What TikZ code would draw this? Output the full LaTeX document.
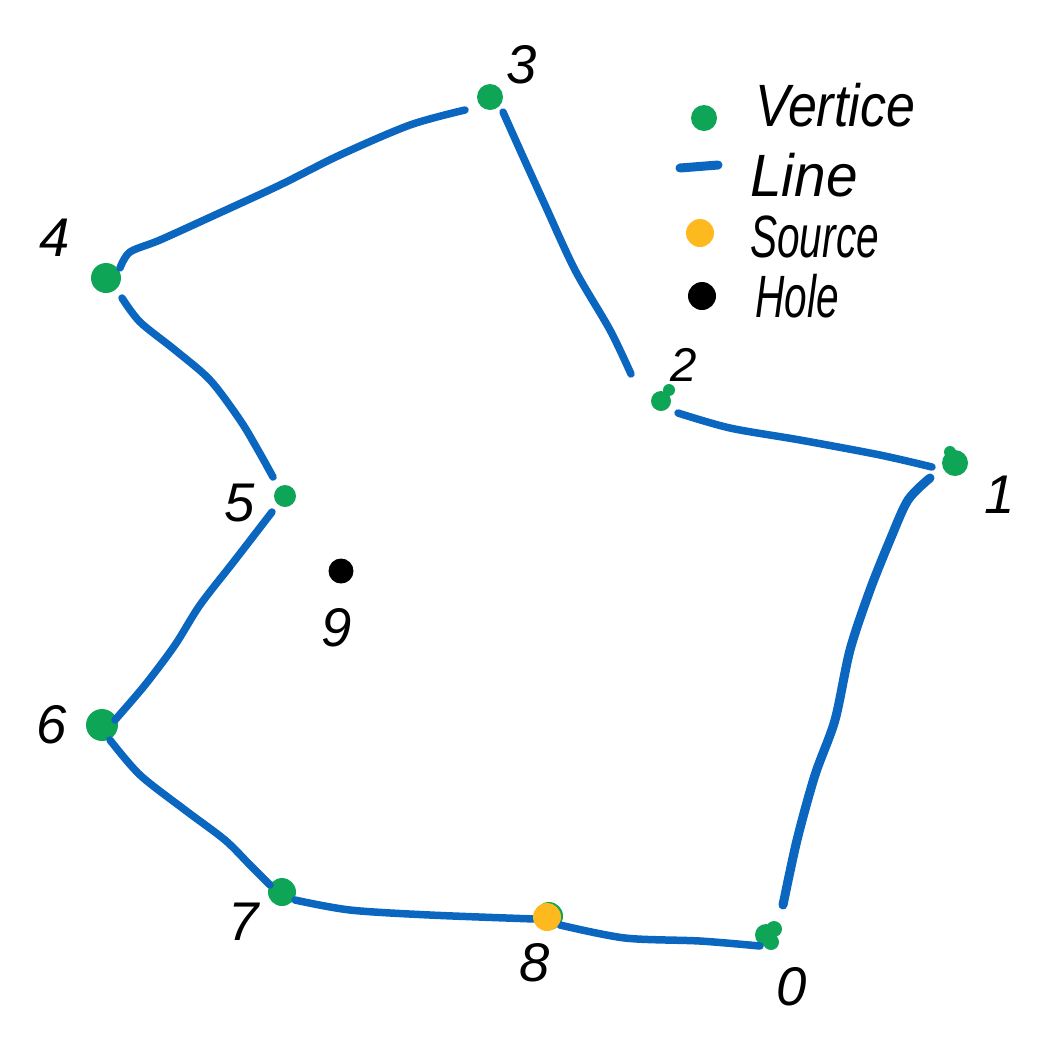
\documentclass[tikz,border=0pt]{standalone}
\usepackage{fontspec}
\setmainfont{Liberation Sans}
\definecolor{vgreen}{HTML}{0FA557}
\definecolor{lblue}{HTML}{0A66BE}
\definecolor{syellow}{HTML}{FDB91E}
\tikzset{
  px/.style={x=0.02cm,y=-0.02cm},
  vert/.style={circle,fill=vgreen,inner sep=0pt,minimum size=#1*0.04cm},
  src/.style={circle,fill=syellow,inner sep=0pt,minimum size=#1*0.04cm},
  hole/.style={circle,fill=black,inner sep=0pt,minimum size=#1*0.04cm},
  edge/.style={draw=lblue,line width=7.5*0.02cm,line cap=round,line join=round},
  thickedge/.style={edge,line width=9*0.02cm},
  num/.style={font=\fontsize{31}{31}\selectfont\itshape,text=black,inner sep=0pt},
  smallnum/.style={num,font=\fontsize{27}{27}\selectfont\itshape},
  legend/.style={font=\fontsize{34}{34}\selectfont\itshape,text=black,inner sep=0pt,anchor=west}
}
\begin{document}
\begin{tikzpicture}[px]
\useasboundingbox (0,0) rectangle (1054,1036);
% free ends of the strokes
\coordinate (a0) at (783,905); \coordinate (b1) at (930,478);
\coordinate (a1) at (932,467); \coordinate (b2) at (678,413);
\coordinate (a2) at (631,374); \coordinate (b3) at (503,112);
\coordinate (a3) at (465,110); \coordinate (b4) at (120,268);
\coordinate (a4) at (122,298); \coordinate (b5) at (273,477);
\coordinate (a5) at (272,512); \coordinate (b6) at (115,720);
\coordinate (a6) at (110,740); \coordinate (b7) at (270,885);
\coordinate (a7) at (295,900); \coordinate (b8) at (535,919);
\coordinate (a8) at (560,925); \coordinate (b0) at (760,946);
\coordinate (la) at (680,168); \coordinate (lb) at (718,165);
% vertices
\node[vert=11] (v0) at (766,935) {};
\node[vert=8] (v0b) at (774,929) {};
\node[vert=8] (v0c) at (771,942) {};
\node[vert=13] (v1) at (955,463) {};
\node[vert=6] (v1b) at (950,452) {};
\node[vert=10] (v2) at (661,401) {};
\node[vert=6] (v2b) at (669,390) {};
\node[vert=13] (v3) at (490,97) {};
\node[vert=15] (v4) at (106,278) {};
\node[vert=11] (v5) at (285,496) {};
\node[vert=16] (v6) at (102,725) {};
\node[vert=14] (v7) at (282,892) {};
\node[vert=14] (v8g) at (549,916) {};
% edges
\draw[thickedge] plot[smooth,tension=.5] coordinates {(a0) (797,840) (815,775) (835,720) (850,650) (870,590) (890,540) (908,500) (b1)};
\draw[edge] plot[smooth,tension=.5] coordinates {(a1) (880,455) (800,440) (730,428) (b2)};
\draw[edge] plot[smooth,tension=.5] coordinates {(a2) (610,330) (575,270) (545,205) (520,150) (b3)};
\draw[edge] plot[smooth,tension=.5] coordinates {(a3) (410,125) (340,155) (280,185) (215,215) (160,240) (130,252) (b4)};
\draw[edge] plot[smooth,tension=.5] coordinates {(a4) (140,322) (175,350) (210,380) (240,420) (258,450) (b5)};
\draw[edge] plot[smooth,tension=.5] coordinates {(a5) (235,560) (200,605) (175,645) (145,685) (b6)};
\draw[edge] plot[smooth,tension=.5] coordinates {(a6) (140,775) (185,810) (225,840) (250,865) (b7)};
\draw[edge] plot[smooth,tension=.5] coordinates {(a7) (350,910) (430,915) (b8)};
\draw[edge] plot[smooth,tension=.5] coordinates {(a8) (625,938) (700,941) (b0)};
\draw[thickedge] (la) -- (lb);
% source and hole
\node[src=14] (v8) at (547,917) {};
\node[hole=12.5] (v9) at (341,571) {};
% legend marks
\node[vert=13] (lv) at (704,118) {};
\node[src=14] (ls) at (700,233) {};
\node[hole=14] (lh) at (702,296) {};
% labels
\node[num] (n3) at (522,65) {3};
\node[num] (n4) at (55,238) {4};
\node[smallnum] (n2) at (684,365) {2};
\node[num] (n1) at (1000,495) {1};
\node[num] (n5) at (240,503) {5};
\node[num] (n9) at (337,628) {9};
\node[num] (n6) at (52,725) {6};
\node[num] (n7) at (244,922) {7};
\node[num] (n8) at (535,963) {8};
\node[num] (n0) at (792,987) {0};
\node[legend,xscale=.87] (tv) at (755,105) {Vertice};
\node[legend,xscale=.95] (tl) at (750,175) {Line};
\node[legend,xscale=.68] (ts) at (750,237) {Source};
\node[legend,xscale=.68] (th) at (755,296) {Hole};
\end{tikzpicture}
\end{document}
